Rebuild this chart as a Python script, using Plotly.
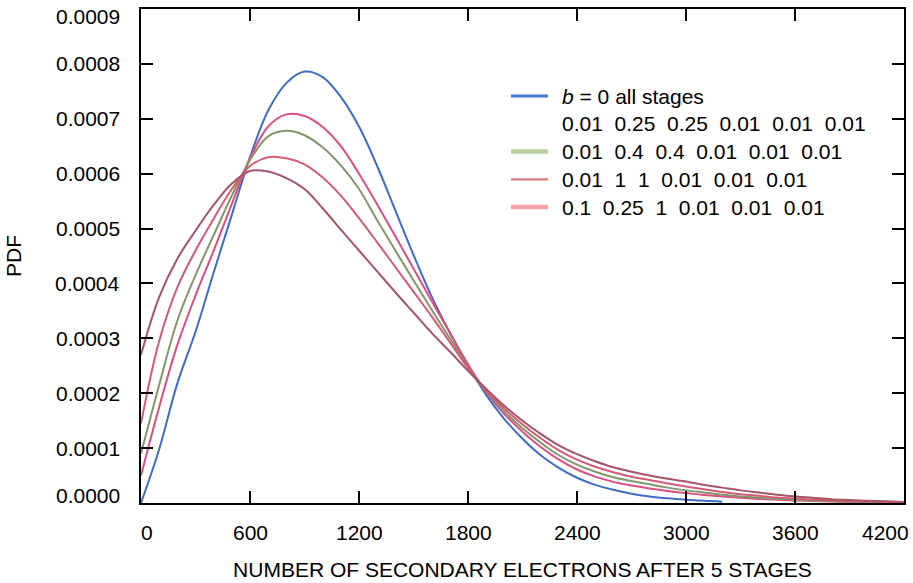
import plotly.graph_objects as go

# ---------------- data (PDF values in units of 1e-4) ----------------
x_blue = [0, 100, 200, 300, 400, 500, 600, 700, 800, 900, 1000, 1100, 1200, 1300, 1400, 1500, 1600,
          1700, 1800, 1900, 2000, 2100, 2200, 2300, 2400, 2500, 2600, 2700, 2800, 2900, 3000, 3100, 3200]
y_blue = [0.0, 0.98, 2.18, 3.12, 4.20, 5.25, 6.30, 7.15, 7.65, 7.86, 7.76, 7.40, 6.86, 6.14, 5.33, 4.52,
          3.76, 3.10, 2.50, 1.97, 1.53, 1.17, 0.87, 0.64, 0.46, 0.33, 0.24, 0.17, 0.12, 0.085, 0.06,
          0.04, 0.025]

x_red = [0, 100, 200, 300, 400, 500, 600, 700, 800, 900, 1000, 1100, 1200, 1300, 1400, 1500, 1600,
         1700, 1800, 1900, 2000, 2100, 2200, 2300, 2400, 2500, 2600, 2700, 2800, 2900, 3000, 3100,
         3200, 3300, 3400, 3500, 3600, 3700, 3800, 3900, 4000, 4100, 4200]

# b = 0.01 0.25 0.25 0.01 0.01 0.01
y_b025 = [0.50, 1.75, 2.88, 3.78, 4.60, 5.45, 6.28, 6.86, 7.08, 7.05, 6.85, 6.50, 6.00, 5.44, 4.86,
          4.27, 3.68, 3.10, 2.53, 2.02, 1.62, 1.30, 1.02, 0.79, 0.61, 0.48, 0.385, 0.32, 0.265, 0.22,
          0.18, 0.148, 0.12, 0.096, 0.075, 0.058, 0.045, 0.035, 0.026, 0.02, 0.014, 0.01, 0.007]

# b = 0.01 0.4 0.4 0.01 0.01 0.01
y_b04 = [0.90, 2.15, 3.32, 4.15, 4.88, 5.60, 6.25, 6.68, 6.78, 6.70, 6.48, 6.15, 5.72, 5.15, 4.60,
         4.06, 3.52, 3.00, 2.48, 2.03, 1.67, 1.36, 1.10, 0.87, 0.70, 0.57, 0.47, 0.40, 0.34, 0.28,
         0.23, 0.19, 0.15, 0.12, 0.095, 0.075, 0.058, 0.045, 0.033, 0.025, 0.018, 0.013, 0.009]

# b = 0.01 1 1 0.01 0.01 0.01
y_b1 = [1.45, 2.95, 3.93, 4.60, 5.18, 5.72, 6.14, 6.30, 6.28, 6.17, 5.93, 5.60, 5.19, 4.75, 4.30,
        3.85, 3.40, 2.93, 2.46, 2.04, 1.72, 1.43, 1.18, 0.96, 0.79, 0.66, 0.56, 0.48, 0.42, 0.355,
        0.30, 0.25, 0.20, 0.16, 0.13, 0.10, 0.08, 0.062, 0.047, 0.036, 0.026, 0.018, 0.013]

# b = 0.1 0.25 1 0.01 0.01 0.01
y_b01 = [2.70, 3.75, 4.45, 4.96, 5.43, 5.82, 6.05, 6.04, 5.92, 5.72, 5.37, 4.98, 4.60, 4.22, 3.84,
         3.47, 3.10, 2.76, 2.41, 2.08, 1.77, 1.50, 1.26, 1.05, 0.89, 0.76, 0.65, 0.57, 0.50, 0.44,
         0.39, 0.33, 0.28, 0.23, 0.19, 0.15, 0.12, 0.095, 0.07, 0.055, 0.04, 0.03, 0.02]

legend_names = ["<i>b</i> = 0 all stages",
                "0.01  0.25  0.25  0.01  0.01  0.01",
                "0.01  0.4  0.4  0.01  0.01  0.01",
                "0.01  1  1  0.01  0.01  0.01",
                "0.1  0.25  1  0.01  0.01  0.01"]

x_ticks = [0, 600, 1200, 1800, 2400, 3000, 3600, 4200]
x_tick_text = ["0", "600", "1200", "1800", "2400", "3000", "3600", "4200"]
y_ticks = [0.0, 0.0001, 0.0002, 0.0003, 0.0004, 0.0005, 0.0006, 0.0007, 0.0008, 0.0009]
y_tick_text = ["0.0000", "0.0001", "0.0002", "0.0003", "0.0004", "0.0005", "0.0006", "0.0007", "0.0008", "0.0009"]

FONT = "Liberation Sans, Arial, Helvetica, sans-serif"
FS = 21

# plot area in pixels
L, R, T, B = 141, 906, 9, 503
W, H = R - L, B - T

def px_x(p):
    return (p - L) / W

def px_y(p):
    return (B - p) / H

def scale(v):
    return [a * 1e-4 for a in v]

curves = [
    (x_blue, y_blue, "#3f6cc6"),
    (x_red, y_b025, "#de4d7f"),
    (x_red, y_b04, "#82966a"),
    (x_red, y_b1, "#d55b74"),
    (x_red, y_b01, "#a65566"),
]

fig = go.Figure()
for (xs, ys, col), nm in zip(curves, legend_names):
    fig.add_trace(go.Scatter(x=xs, y=scale(ys), mode="lines", showlegend=False,
                             name=nm.replace("  ", " ").replace("<i>", "").replace("</i>", ""),
                             line=dict(color=col, width=2, shape="spline", smoothing=1.0)))

annotations = []
# x tick labels (edge labels nudged inward as in the original)
x_shift = {0: 6, 4200: -19}
for v, t in zip(x_ticks, x_tick_text):
    annotations.append(dict(text=t, xref="x", x=v, yref="paper", y=0, yshift=-29,
                            xshift=x_shift.get(v, 0), showarrow=False, xanchor="center",
                            yanchor="middle", font=dict(size=FS)))
# y tick labels
y_shift = {0: 8, 9: -7}
for i, (v, t) in enumerate(zip(y_ticks, y_tick_text)):
    annotations.append(dict(text=t, xref="paper", x=0, xshift=-20, yref="y", y=v,
                            yshift=y_shift.get(i, 0), showarrow=False, xanchor="right",
                            yanchor="middle", font=dict(size=FS), borderpad=0))

# legend (drawn manually to match row spacing of the original)
leg_rows = [96, 123.7, 151.5, 179.3, 207]
leg_lines = [("#4a74c9", 3.2), None, ("#b8cf9f", 4.5), ("#d97d80", 2.2), ("#f7a0aa", 4.5)]
shapes = []
for name, py, ln in zip(legend_names, leg_rows, leg_lines):
    annotations.append(dict(text=name.replace("  ", "\u00a0\u00a0"), xref="paper", yref="paper",
                            x=px_x(561), y=px_y(py), xanchor="left", yanchor="middle",
                            showarrow=False, font=dict(size=FS)))
    if ln is not None:
        shapes.append(dict(type="line", xref="paper", yref="paper", x0=px_x(512), x1=px_x(549),
                           y0=px_y(py), y1=px_y(py), line=dict(color=ln[0], width=ln[1])))

fig.update_layout(
    width=913, height=583,
    margin=dict(l=L, r=913 - R, t=T, b=583 - B),
    paper_bgcolor="white", plot_bgcolor="white",
    font=dict(family=FONT, size=FS, color="black"),
    showlegend=False,
    annotations=annotations,
    shapes=shapes,
    xaxis=dict(range=[0, 4200], tickvals=x_ticks, showticklabels=False,
               ticks="inside", ticklen=12, tickwidth=1.5, tickcolor="black",
               showline=True, linewidth=2, linecolor="black", mirror="ticks",
               showgrid=False, zeroline=False,
               title=dict(text="NUMBER OF SECONDARY ELECTRONS AFTER 5 STAGES", standoff=58,
                          font=dict(size=FS))),
    yaxis=dict(range=[0, 0.0009], tickvals=y_ticks, showticklabels=False,
               ticks="inside", ticklen=12, tickwidth=1.5, tickcolor="black",
               showline=True, linewidth=2, linecolor="black", mirror="ticks",
               showgrid=False, zeroline=False,
               title=dict(text="PDF", standoff=112, font=dict(size=FS))),
)

fig.write_html("out.html")
